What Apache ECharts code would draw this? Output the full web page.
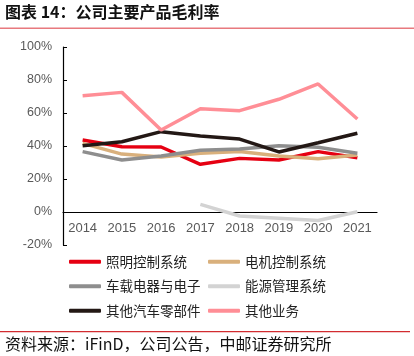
<!DOCTYPE html>
<html><head><meta charset="utf-8">
<script src="https://cdn.jsdelivr.net/npm/echarts@6/dist/echarts.min.js"></script>
<style>html,body{margin:0;padding:0;background:#fff}#c{width:414px;height:356px}</style>
</head><body><div id="c"></div>
<script>
var categories = ['2014','2015','2016','2017','2018','2019','2020','2021'];
var seriesNames = ['照明控制系统','电机控制系统','车载电器与电子','能源管理系统','其他汽车零部件','其他业务'];
var lighting = [43.6, 39.6, 39.4, 28.9, 32.5, 31.5, 36.6, 32.9];
var motor = [41.6, 35.1, 33.3, 35.6, 36.6, 34.0, 32.3, 34.5];
var electrical = [36.6, 31.5, 34.0, 37.4, 38.2, 40.2, 39.2, 35.6];
var energy = [null, null, null, 4.6, -2.4, -3.8, -5.2, 0.2];
var otherParts = [40.2, 42.6, 48.7, 46.0, 44.2, 36.4, 42.0, 47.7];
var otherBiz = [70.5, 72.5, 49.7, 62.6, 61.4, 68.3, 77.6, 56.4];
var yTicks = {min: -20, max: 100, interval: 20};

var colors = ['#E60012','#D9B07C','#8E8E8E','#D3D3D3','#231815','#FF8E96'];
var dataList = [lighting, motor, electrical, energy, otherParts, otherBiz];

var chart = echarts.init(document.getElementById('c'));
var series = dataList.map(function(d, i){
  return {name: seriesNames[i], type:'line', data:d, symbol:'none', smooth:false,
    lineStyle:{width:3.5, color:colors[i]}, itemStyle:{color:colors[i]}, connectNulls:false};
});
var legendCommon = {orient:'vertical', icon:'roundRect', itemWidth:32, itemHeight:4, itemGap:11,
  textStyle:{fontSize:13.5, color:'#222', fontFamily:'Noto Sans CJK SC'}};
chart.setOption({
  animation:false,
  color: colors,
  grid:{left:63, right:37, top:47, bottom:111, containLabel:false},
  xAxis:{type:'category', data:categories, boundaryGap:true, offset:-33,
    axisLine:{onZero:false, lineStyle:{color:'#000', width:1.2}},
    axisTick:{inside:true, length:4, alignWithLabel:false, lineStyle:{color:'#000'}},
    axisLabel:{fontSize:13, color:'#595959', margin:10, fontFamily:'Liberation Sans'}},
  yAxis:{type:'value', min:yTicks.min, max:yTicks.max, interval:yTicks.interval,
    axisLine:{show:true, lineStyle:{color:'#000', width:1.2}},
    axisTick:{show:true, inside:true, length:4, lineStyle:{color:'#000'}},
    splitLine:{show:false},
    axisLabel:{fontSize:12.5, color:'#595959', margin:11, fontFamily:'Liberation Sans', formatter:'{value}%'}},
  legend:[
    Object.assign({left:64, top:250, data:[seriesNames[0], seriesNames[2], seriesNames[4]]}, legendCommon),
    Object.assign({left:203, top:250, data:[seriesNames[1], seriesNames[3], seriesNames[5]]}, legendCommon)
  ],
  series: series,
  graphic:[
    {type:'text', left:5, top:4, style:{text:'图表 14：公司主要产品毛利率', font:'bold 16px "Noto Sans CJK SC"', fill:'#111'}},
    {type:'rect', shape:{x:0, y:27.5, width:414, height:1.5}, style:{fill:'#E8797E'}},
    {type:'rect', shape:{x:0, y:331, width:410, height:1.2}, style:{fill:'#D22C30'}},
    {type:'text', left:5, top:336, style:{text:'资料来源：iFinD，公司公告，中邮证券研究所', font:'16px "Noto Sans CJK SC"', fill:'#111'}}
  ]
});
</script></body></html>
